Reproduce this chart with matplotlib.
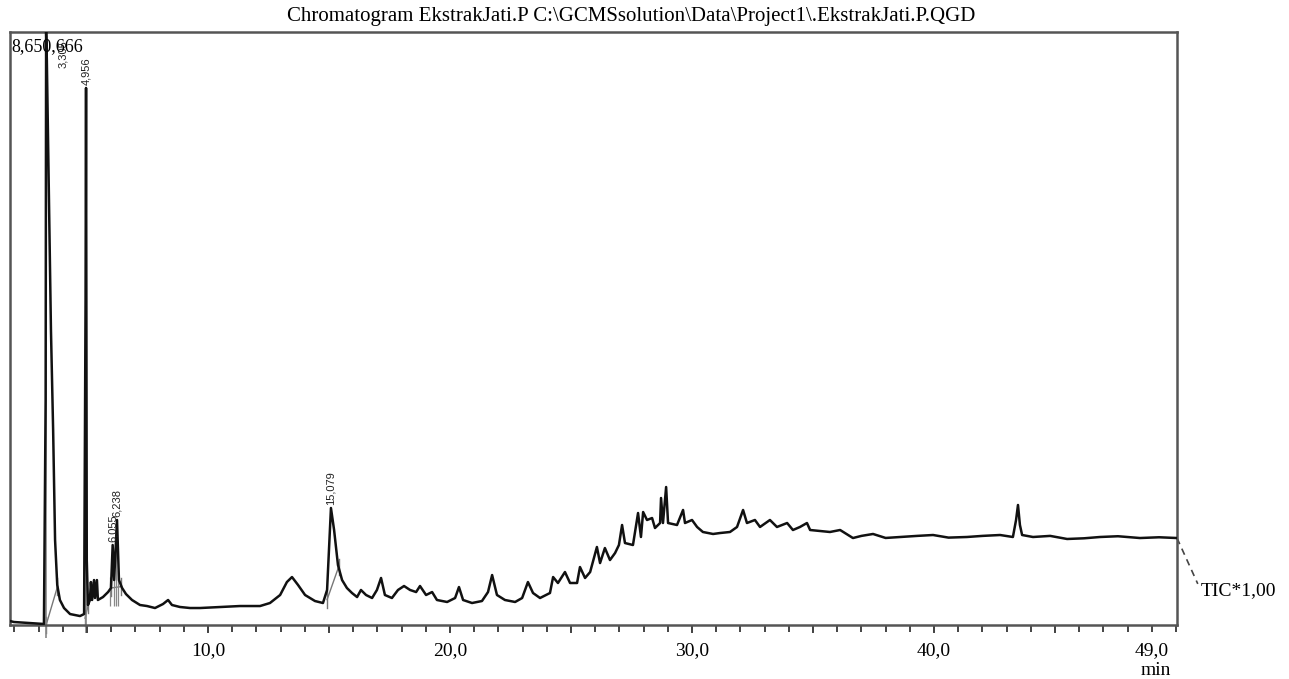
#!/usr/bin/env python3
import matplotlib
matplotlib.use("Agg")
import matplotlib.pyplot as plt
from matplotlib.ticker import MultipleLocator, FixedLocator
import numpy as np

# retention time (min) and TIC intensity (thousand counts)
rt = [1.82, 1.98, 2.64, 3.22, 3.29, 3.31, 3.34, 3.43, 3.51, 3.60, 3.68, 3.77, 3.88, 4.05,
      4.30, 4.71, 4.88, 4.94, 4.96, 4.99, 5.04, 5.12, 5.16, 5.21, 5.29, 5.33, 5.41, 5.45,
      5.66, 5.87, 5.99, 6.06, 6.12, 6.24, 6.32, 6.45, 6.61, 6.86, 7.19, 7.48, 7.81, 8.14,
      8.35, 8.51, 8.84, 9.26, 9.67, 10.50, 11.32, 12.15, 12.56, 12.98, 13.26, 13.47, 13.72,
      14.01, 14.42, 14.75, 14.92, 15.08, 15.21, 15.37, 15.54, 15.74, 15.95, 16.16, 16.32,
      16.53, 16.78, 16.98, 17.15, 17.31, 17.60, 17.85, 18.10, 18.35, 18.60, 18.76, 19.01,
      19.26, 19.46, 19.88, 20.21, 20.37, 20.54, 20.91, 21.32, 21.57, 21.74, 21.94, 22.27,
      22.69, 22.98, 23.22, 23.43, 23.72, 24.13, 24.26, 24.46, 24.75, 24.96, 25.25, 25.37,
      25.58, 25.79, 26.07, 26.20, 26.40, 26.61, 26.82, 26.98, 27.11, 27.23, 27.56, 27.77,
      27.89, 27.98, 28.14, 28.35, 28.47, 28.68, 28.72, 28.80, 28.93, 29.01, 29.38, 29.63,
      29.71, 30.00, 30.21, 30.45, 30.87, 31.16, 31.57, 31.86, 32.11, 32.27, 32.60, 32.81,
      33.22, 33.51, 33.93, 34.17, 34.46, 34.75, 34.88, 35.70, 36.12, 36.65, 37.00, 37.48,
      38.00, 38.60, 39.30, 39.96, 40.60, 41.36, 42.00, 42.73, 43.26, 43.39, 43.47, 43.55,
      43.64, 44.09, 44.80, 45.50, 46.20, 46.86, 47.60, 48.51, 49.30, 50.04]
tic = [58, 44, 29, 15, 3282, 8651, 8242, 6200, 4303, 2845, 1240, 584, 365, 248,
       160, 131, 160, 4741, 7834, 948, 292, 365, 627, 365, 656, 394, 656, 365,
       408, 481, 540, 1167, 656, 1532, 656, 540, 452, 365, 292, 277, 248, 306,
       365, 292, 263, 248, 248, 263, 277, 277, 321, 438, 627, 700, 584,
       438, 350, 321, 511, 1707, 1386, 875, 656, 540, 467, 408, 511,
       438, 394, 511, 686, 438, 394, 511, 569, 511, 481, 569, 438,
       481, 365, 336, 394, 554, 365, 321, 350, 481, 729, 438, 365,
       336, 394, 627, 467, 394, 467, 700, 613, 773, 613, 613, 846,
       686, 773, 1138, 904, 1123, 948, 1050, 1167, 1459, 1196, 1167, 1634,
       1284, 1648, 1532, 1561, 1415, 1488, 1853, 1488, 2013, 1488, 1459, 1678,
       1488, 1532, 1430, 1357, 1328, 1342, 1357, 1430, 1678, 1488, 1532, 1430,
       1532, 1430, 1488, 1386, 1430, 1488, 1386, 1357, 1386, 1269, 1300, 1328,
       1270, 1284, 1300, 1313, 1275, 1284, 1300, 1313, 1284, 1532, 1751, 1459,
       1313, 1284, 1300, 1255, 1265, 1284, 1295, 1269, 1280, 1269]

y_max = 8650.666  # 8,650,666 counts

# labelled peaks
peak_rt = [3.305, 4.956, 6.055, 6.238, 15.079]
peak_top = [8651, 7834, 1167, 1532, 1707]
peak_lbl = ["3,305", "4,956", "6,055", "6,238", "15,079"]

# integration baselines (start rt, start int, end rt, end int)
bl_t0 = [3.31, 4.92, 5.99, 14.92]
bl_i0 = [0, 100, 540, 370]
bl_t1 = [3.78, 5.05, 6.40, 15.40]
bl_i1 = [560, 290, 560, 850]

serif = ["Liberation Serif", "DejaVu Serif"]


def main():
	fig = plt.figure(figsize=(12.89, 6.79), dpi=100)
	ax = fig.add_axes([0.0078, 0.0795, 0.9053, 0.8734])

	# integration marks
	for a, b, c, d in zip(bl_t0, bl_i0, bl_t1, bl_i1):
		ax.plot([a, c], [b, d], color="#777777", lw=1.0, zorder=2)
		ax.plot([a, a], [b - 120, b + 120], color="#777777", lw=1.0, zorder=2, clip_on=False)
		ax.plot([c, c], [d - 120, d + 120], color="#777777", lw=1.0, zorder=2)
	ax.vlines([3.30, 4.955], [-190, -110], [y_max, 7834], color="#888888", lw=1.2, zorder=2, clip_on=False)
	ax.vlines([5.95, 6.10, 6.20, 6.30], 280, [700, 900, 1100, 800], color="#888888", lw=0.9, zorder=2)

	ax.plot(rt, tic, color="#111111", lw=1.8, zorder=3, solid_joinstyle="round")

	for t, h, s in zip(peak_rt, peak_top, peak_lbl):
		xt, yt = t, h + 40
		if t < 3.5:
			xt, yt = t + 0.7, 0.94 * y_max
		ax.text(xt, yt, s, rotation=90, ha="center", va="bottom",
				fontsize=8, family=["Liberation Sans Narrow", "Liberation Sans", "DejaVu Sans"],
				color="#222222")

	ax.text(1.88, 0.99 * y_max, "8,650,666", ha="left", va="top", fontsize=13, family=serif)

	ax.set_xlim(1.82, 50.04)
	ax.set_ylim(0, y_max)
	ax.set_yticks([])

	ax.xaxis.set_major_locator(FixedLocator([10, 20, 30, 40, 49]))
	ax.xaxis.set_minor_locator(MultipleLocator(1))
	ax.set_xticklabels(["10,0", "20,0", "30,0", "40,0", "49,0"])
	for lab in ax.get_xticklabels():
		lab.set_family(serif)
		lab.set_fontsize(14)
	ax.tick_params(axis="x", which="major", length=5, width=1.4, color="#444444", pad=7)
	ax.tick_params(axis="x", which="minor", length=5, width=1.4, color="#444444")
	# longer ticks every 5 min
	ax.vlines(np.arange(5, 50, 5), -0.014 * y_max, 0, color="#444444", lw=1.4, clip_on=False)

	for sp in ax.spines.values():
		sp.set_color("#555555")
		sp.set_linewidth(1.8)

	ax.text(0.995, -0.062, "min", transform=ax.transAxes, ha="right", va="top",
			fontsize=14, family=serif)

	# TIC leader
	ax.plot([50.04, 50.9], [1269, 600], color="#444444", lw=1.2, ls=(0, (4, 3)), clip_on=False)
	ax.text(51.0, 500, "TIC*1,00", ha="left", va="center", fontsize=14, family=serif)

	fig.text(0.49, 0.975, "Chromatogram EkstrakJati.P C:\\GCMSsolution\\Data\\Project1\\.EkstrakJati.P.QGD",
			 ha="center", va="center", fontsize=15, family=serif)

	fig.savefig("out.png", dpi=100)
	plt.close(fig="all")


if __name__ == '__main__':
	main()
